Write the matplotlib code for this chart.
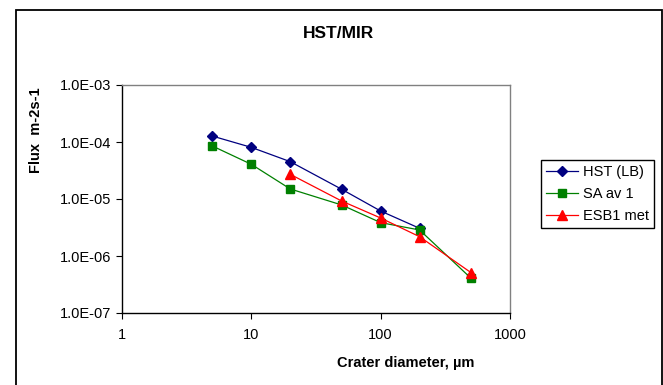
import matplotlib
matplotlib.use("Agg")
import matplotlib.pyplot as plt
from matplotlib.patches import Rectangle

plt.rcParams['font.family'] = ['Liberation Sans', 'DejaVu Sans']

# Data
x_hst = [5, 10, 20, 50, 100, 200]
y_hst = [1.27e-4, 8.05e-5, 4.52e-5, 1.48e-5, 6.15e-6, 3.06e-6]

x_sa = [5, 10, 20, 50, 100, 200, 500]
y_sa = [8.5e-5, 4.06e-5, 1.5e-5, 7.85e-6, 3.85e-6, 2.86e-6, 4.06e-7]

x_esb = [20, 50, 100, 200, 500]
y_esb = [2.71e-5, 9.2e-6, 4.64e-6, 2.18e-6, 5.1e-7]

labels = ["HST (LB)", "SA av 1", "ESB1 met"]
x_ticks = [1, 10, 100, 1000]
x_ticklabels = ["1", "10", "100", "1000"]
y_ticks = [1e-7, 1e-6, 1e-5, 1e-4, 1e-3]
y_ticklabels = ["1.0E-07", "1.0E-06", "1.0E-05", "1.0E-04", "1.0E-03"]

W, H = 663, 385
fig = plt.figure(figsize=(W / 100, H / 100), dpi=100)
ax = fig.add_axes([122 / W, 1 - 313 / H, (510 - 122) / W, (313 - 85) / H])

ax.plot(x_hst, y_hst, color='#000080', marker='D', markersize=5.5, lw=0.9, label=labels[0])
ax.plot(x_sa, y_sa, color='#008000', marker='s', markersize=6, lw=0.9, label=labels[1])
ax.plot(x_esb, y_esb, color='#FF0000', marker='^', markersize=7, lw=0.9, label=labels[2])

ax.set_xscale('log')
ax.set_yscale('log')
ax.set_xlim(1, 1000)
ax.set_ylim(1e-7, 1e-3)
ax.set_xticks(x_ticks)
ax.set_xticklabels(x_ticklabels)
ax.set_yticks(y_ticks)
ax.set_yticklabels(y_ticklabels)
ax.minorticks_off()
ax.tick_params(axis='both', which='major', direction='out', length=4, width=0.8,
               labelsize=10.5, colors='black')
ax.tick_params(axis='x', pad=7)
ax.tick_params(axis='y', pad=4)

for s in ['left', 'bottom']:
    ax.spines[s].set_color('black')
    ax.spines[s].set_linewidth(1.0)
for s in ['top', 'right']:
    ax.spines[s].set_color('#808080')
    ax.spines[s].set_linewidth(1.0)

fig.text(339 / W, 1 - 33 / H, "HST/MIR", ha='center', va='center',
         fontsize=12.5, fontweight='bold')
fig.text(406 / W, 1 - 363 / H, "Crater diameter, µm", ha='center', va='center',
         fontsize=10.5, fontweight='bold')
fig.text(36.5 / W, 1 - 130 / H, "Flux  m-2s-1", ha='center', va='center',
         rotation=90, fontsize=10.5, fontweight='bold')

leg = fig.legend(loc='upper left', bbox_to_anchor=(541 / W, 1 - 160 / H),
                 borderaxespad=0, fancybox=False, frameon=True, fontsize=10.5,
                 handlelength=2.2, handletextpad=0.3, labelspacing=0.55,
                 borderpad=0.35, edgecolor='black', framealpha=1)
leg.get_frame().set_linewidth(1.0)

fig.patches.append(Rectangle((16 / W, -0.1), (662 - 16) / W, 1.1 - 10 / H,
                             transform=fig.transFigure, fill=False,
                             edgecolor='black', linewidth=1.3))

fig.savefig("out.png", dpi=100)
